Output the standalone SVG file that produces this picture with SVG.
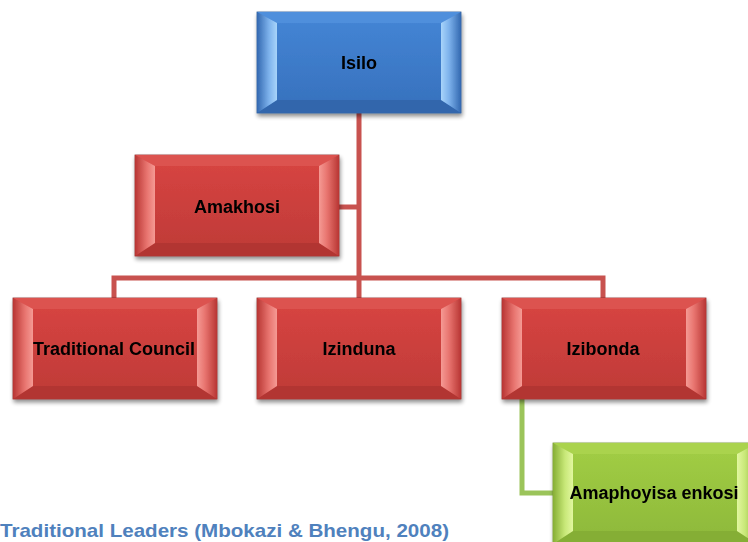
<svg xmlns="http://www.w3.org/2000/svg" width="748" height="542" viewBox="0 0 748 542">
<style>
.lbl{font-family:"Liberation Sans",Arial,sans-serif;font-weight:bold;font-size:18px;fill:#000;text-anchor:middle}
.cap{font-family:"Liberation Sans",Arial,sans-serif;font-weight:bold;font-size:19px;fill:#4F81BD}
.red{stroke:#C8524F;stroke-width:5;fill:none}
.grn{stroke:#9BC45A;stroke-width:5;fill:none}
</style>
<defs>
<filter id="sh" x="-10%" y="-10%" width="125%" height="130%">
<feGaussianBlur in="SourceAlpha" stdDeviation="2"/>
<feOffset dx="1" dy="3"/>
<feComponentTransfer><feFuncA type="linear" slope="0.45"/></feComponentTransfer>
<feMerge><feMergeNode/><feMergeNode in="SourceGraphic"/></feMerge>
</filter>
<linearGradient id="rF" x1="0" y1="0" x2="0" y2="1"><stop offset="0" stop-color="#D84542"/><stop offset="1" stop-color="#BE3A37"/></linearGradient>
<linearGradient id="rL" x1="0" y1="0" x2="1" y2="0"><stop offset="0" stop-color="#B83633"/><stop offset="0.6" stop-color="#E8746F"/><stop offset="1" stop-color="#F59A94"/></linearGradient>
<linearGradient id="rR" x1="1" y1="0" x2="0" y2="0"><stop offset="0" stop-color="#B83633"/><stop offset="0.6" stop-color="#E8746F"/><stop offset="1" stop-color="#F59A94"/></linearGradient>
<linearGradient id="bF" x1="0" y1="0" x2="0" y2="1"><stop offset="0" stop-color="#4586D6"/><stop offset="1" stop-color="#3670BC"/></linearGradient>
<linearGradient id="bL" x1="0" y1="0" x2="1" y2="0"><stop offset="0" stop-color="#3268B0"/><stop offset="0.6" stop-color="#7DB2EC"/><stop offset="1" stop-color="#A8D4FA"/></linearGradient>
<linearGradient id="bR" x1="1" y1="0" x2="0" y2="0"><stop offset="0" stop-color="#3268B0"/><stop offset="0.6" stop-color="#7DB2EC"/><stop offset="1" stop-color="#A8D4FA"/></linearGradient>
<linearGradient id="gF" x1="0" y1="0" x2="0" y2="1"><stop offset="0" stop-color="#A2CE45"/><stop offset="1" stop-color="#8DB83A"/></linearGradient>
<linearGradient id="gL" x1="0" y1="0" x2="1" y2="0"><stop offset="0" stop-color="#86AE34"/><stop offset="0.6" stop-color="#C8E878"/><stop offset="1" stop-color="#E2F7A0"/></linearGradient>
<linearGradient id="gR" x1="1" y1="0" x2="0" y2="0"><stop offset="0" stop-color="#86AE34"/><stop offset="0.6" stop-color="#C8E878"/><stop offset="1" stop-color="#E2F7A0"/></linearGradient>
<g id="boxRed">
<rect x="0" y="0" width="204" height="101" fill="url(#rF)" stroke="#8E2C2A" stroke-width="0.8"/>
<polygon points="0,0 204,0 184,11 20,11" fill="#DC5350"/>
<polygon points="0,101 20,88 184,88 204,101" fill="#B23532"/>
<polygon points="0,0 20,11 20,88 0,101" fill="url(#rL)"/>
<polygon points="204,0 184,11 184,88 204,101" fill="url(#rR)"/>
</g>
<g id="boxBlue">
<rect x="0" y="0" width="204" height="101" fill="url(#bF)" stroke="#2A5A96" stroke-width="0.8"/>
<polygon points="0,0 204,0 184,11 20,11" fill="#4F8FDC"/>
<polygon points="0,101 20,88 184,88 204,101" fill="#3166AC"/>
<polygon points="0,0 20,11 20,88 0,101" fill="url(#bL)"/>
<polygon points="204,0 184,11 184,88 204,101" fill="url(#bR)"/>
</g>
<g id="boxGreen">
<rect x="0" y="0" width="204" height="101" fill="url(#gF)" stroke="#6E9128" stroke-width="0.8"/>
<polygon points="0,0 204,0 184,11 20,11" fill="#AAD34E"/>
<polygon points="0,101 20,88 184,88 204,101" fill="#85AE35"/>
<polygon points="0,0 20,11 20,88 0,101" fill="url(#gL)"/>
<polygon points="204,0 184,11 184,88 204,101" fill="url(#gR)"/>
</g>
</defs>
<rect width="748" height="542" fill="#fff"/>
<g id="connectors">
<path class="red" d="M359,113 V278"/>
<path class="red" d="M338,207 H359"/>
<path class="red" d="M114,298 V278 H603 V298"/>
<path class="red" d="M359,278 V298"/>
<path class="grn" d="M522,399 V493 H553"/>
</g>
<g id="isilo" filter="url(#sh)">
<use href="#boxBlue" x="257" y="12"/>
<text class="lbl" x="359" y="69">Isilo</text>
</g>
<g id="amakhosi" filter="url(#sh)">
<use href="#boxRed" x="135" y="155"/>
<text class="lbl" x="237" y="213">Amakhosi</text>
</g>
<g id="traditional-council" filter="url(#sh)">
<use href="#boxRed" x="13" y="298"/>
<text class="lbl" x="114" y="355">Traditional Council</text>
</g>
<g id="izinduna" filter="url(#sh)">
<use href="#boxRed" x="257" y="298"/>
<text class="lbl" x="359" y="355">Izinduna</text>
</g>
<g id="izibonda" filter="url(#sh)">
<use href="#boxRed" x="502" y="298"/>
<text class="lbl" x="603" y="355">Izibonda</text>
</g>
<g id="amaphoyisa-enkosi" filter="url(#sh)">
<use href="#boxGreen" x="553" y="443"/>
<text class="lbl" x="654" y="499">Amaphoyisa enkosi</text>
</g>
<text class="cap" x="0" y="537" textLength="449" lengthAdjust="spacingAndGlyphs">Traditional Leaders (Mbokazi &amp; Bhengu, 2008)</text>
</svg>
